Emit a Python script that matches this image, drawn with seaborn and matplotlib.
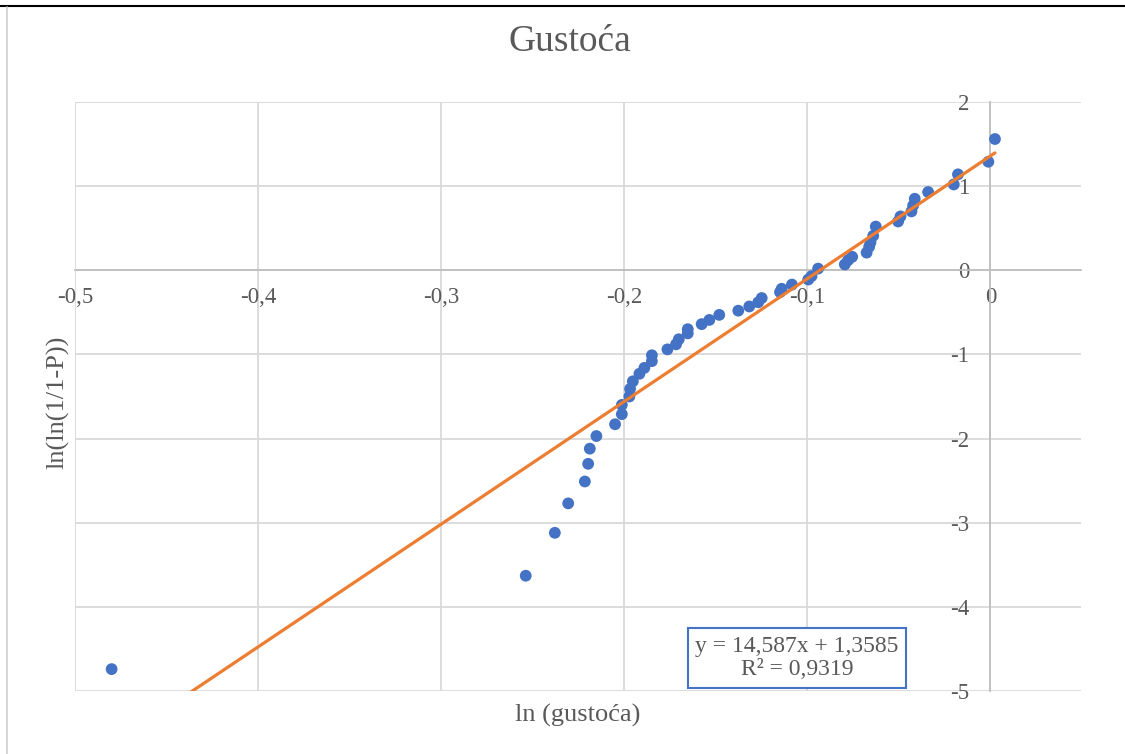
import numpy as np
import pandas as pd
import seaborn as sns
import matplotlib
matplotlib.use("Agg")
import matplotlib.pyplot as plt
from matplotlib.lines import Line2D

# ---- data ----
ln_gustoca = [
    -0.480, -0.2538, -0.2379, -0.2306, -0.2215, -0.2197, -0.2188, -0.2152,
    -0.2050, -0.2013, -0.2013, -0.1972, -0.1968, -0.1953, -0.1917, -0.1890,
    -0.1849, -0.1849, -0.1764, -0.1717, -0.1702, -0.1653, -0.1653, -0.1577,
    -0.1535, -0.1481, -0.1377, -0.1317, -0.1268, -0.1249, -0.1149, -0.1140,
    -0.1084, -0.0995, -0.0977, -0.0941, -0.0795, -0.0777, -0.0755, -0.0676,
    -0.0662, -0.0655, -0.0640, -0.0626, -0.0504, -0.0491, -0.0431, -0.0422,
    -0.0413, -0.0340, -0.0200, -0.0177, -0.0011, 0.0025,
]
ln_ln_p = [
    -4.74, -3.63, -3.12, -2.77, -2.51, -2.30, -2.12, -1.97,
    -1.83, -1.71, -1.60, -1.50, -1.41, -1.32, -1.23, -1.16,
    -1.08, -1.01, -0.94, -0.88, -0.82, -0.75, -0.70, -0.64,
    -0.59, -0.53, -0.48, -0.43, -0.38, -0.33, -0.26, -0.22,
    -0.17, -0.11, -0.07, 0.02, 0.07, 0.12, 0.16, 0.21,
    0.28, 0.33, 0.41, 0.52, 0.58, 0.64, 0.70, 0.77,
    0.85, 0.93, 1.02, 1.14, 1.29, 1.56,
]
slope = 14.587
intercept = 1.3585
r_squared = 0.9319

x_ticks = [-0.5, -0.4, -0.3, -0.2, -0.1, 0.0]
x_tick_labels = ["-0,5", "-0,4", "-0,3", "-0,2", "-0,1", "0"]
y_ticks = [-5, -4, -3, -2, -1, 0, 1, 2]
y_tick_labels = ["-5", "-4", "-3", "-2", "-1", "0", "1", "2"]

title = "Gustoća"
x_label = "ln (gustoća)"
y_label = "ln(ln(1/1-P))"
eq_text = "y = 14,587x + 1,3585\nR² = 0,9319"

df = pd.DataFrame({"x": ln_gustoca, "y": ln_ln_p})
trend_x = np.array([min(ln_gustoca), max(ln_gustoca)])
trend_df = pd.DataFrame({"x": trend_x, "y": slope * trend_x + intercept})

# ---- styling ----
sns.set_theme(style="white")
plt.rcParams["font.family"] = ["Liberation Serif", "DejaVu Serif"]
txt = "#595959"
grid = "#D9D9D9"
axis_c = "#BFBFBF"
blue = "#4472C4"
orange = "#ED7D31"

fig = plt.figure(figsize=(11.25, 7.54), dpi=100)
W, H = 1125, 754
ax = fig.add_axes([75 / W, 1 - 691 / H, (1081 - 75) / W, (691 - 102) / H])

sns.scatterplot(data=df, x="x", y="y", ax=ax, color=blue, s=72,
                edgecolor="none", zorder=3, legend=False)
sns.lineplot(data=trend_df, x="x", y="y", ax=ax, color=orange, lw=2.3,
             zorder=4, legend=False)

ax.set_xlim(-0.5, 0.0495)
ax.set_ylim(-5, 2)

# gridlines
ax.set_xticks(x_ticks)
ax.set_yticks(y_ticks)
ax.grid(True, color=grid, lw=1.3)
ax.set_axisbelow(True)

# axes crossing at zero
for s in ["top", "right"]:
    ax.spines[s].set_visible(False)
ax.spines["bottom"].set_position(("data", 0))
ax.spines["left"].set_position(("data", 0))
for s in ["bottom", "left"]:
    ax.spines[s].set_color(axis_c)
    ax.spines[s].set_linewidth(1.3)
    ax.spines[s].set_zorder(1)

ax.set_xticklabels(x_tick_labels)
ax.set_yticklabels(y_tick_labels)
ax.tick_params(axis="x", length=0, pad=12, labelsize=16.5, labelcolor=txt)
ax.tick_params(axis="y", length=0, pad=15, labelsize=16.5, labelcolor=txt)
for lab in ax.get_yticklabels():
    lab.set_va("center_baseline")

# labels
ax.set_xlabel(x_label, fontsize=19, color=txt, va="center")
ax.xaxis.set_label_coords(0.5, -0.041)
ax.set_ylabel(y_label, fontsize=19, color=txt, va="center", ha="center")
ax.yaxis.set_label_coords(-0.017, 0.49)
ax.set_title(title, fontsize=27, color=txt, x=(570 - 75) / 1006,
             y=(691 - 50) / 589, va="center")

# trendline equation box
ax.text((797 - 75) / 1006, (691 - 658) / 589, eq_text, transform=ax.transAxes,
        ha="center", va="center", fontsize=17, color=txt, linespacing=1.15,
        zorder=6,
        bbox=dict(boxstyle="square,pad=0.32", facecolor="white",
                  edgecolor=blue, linewidth=1.5))

# page decorations (top rule and left frame edge)
fig.add_artist(Line2D([0, 1], [1 - 5.5 / H, 1 - 5.5 / H], color="black",
                      lw=1.5, transform=fig.transFigure))
fig.add_artist(Line2D([7 / W, 7 / W], [0, 1 - 7 / H], color="#D0D0D0",
                      lw=1.2, transform=fig.transFigure))

fig.savefig("out.png", dpi=100, facecolor="white")
